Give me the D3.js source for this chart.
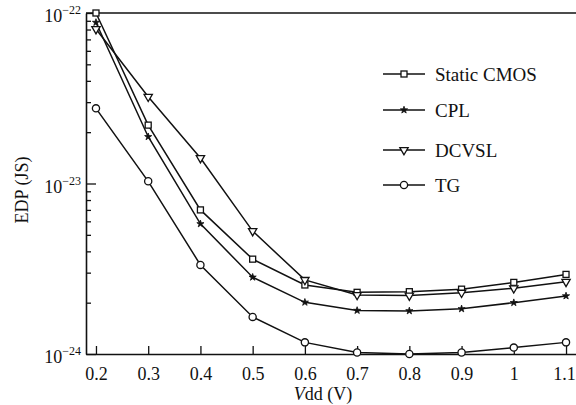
<!DOCTYPE html>
<html>
<head>
<meta charset="utf-8">
<script src="https://cdn.jsdelivr.net/npm/d3@7/dist/d3.min.js"></script>
<style>
  html, body { margin: 0; padding: 0; background: #fff; }
  svg { display: block; }
  text { font-family: "Liberation Serif", "Times New Roman", "DejaVu Serif", serif; fill: #111; }
</style>
</head>
<body>
<svg id="chart" width="576" height="405"></svg>
<script>
// ---- Data (EDP in J·s) ----
const vdd = [0.2, 0.3, 0.4, 0.5, 0.6, 0.7, 0.8, 0.9, 1.0, 1.1];
const staticCMOS = [100e-24, 22e-24, 7.0e-24, 3.6e-24, 2.54e-24, 2.30e-24, 2.32e-24, 2.40e-24, 2.63e-24, 2.93e-24];
const cpl        = [88e-24, 18.8e-24, 5.8e-24, 2.82e-24, 2.01e-24, 1.80e-24, 1.79e-24, 1.84e-24, 2.0e-24, 2.19e-24];
const dcvsl      = [80.5e-24, 32.3e-24, 14.1e-24, 5.26e-24, 2.72e-24, 2.22e-24, 2.20e-24, 2.29e-24, 2.43e-24, 2.65e-24];
const tg         = [27.6e-24, 10.3e-24, 3.33e-24, 1.65e-24, 1.17e-24, 1.02e-24, 1.0e-24, 1.02e-24, 1.09e-24, 1.17e-24];
const seriesNames = ["Static CMOS", "CPL", "DCVSL", "TG"];
const xTickValues = [0.2, 0.3, 0.4, 0.5, 0.6, 0.7, 0.8, 0.9, 1.0, 1.1];
const xTickLabels = ["0.2", "0.3", "0.4", "0.5", "0.6", "0.7", "0.8", "0.9", "1", "1.1"];
const yTickExponents = [-22, -23, -24];

// ---- Layout ----
const svg = d3.select("#chart");
const mLeft = 86, mRight = 576, mTop = 13, mBottom = 354;
const x = d3.scaleLinear().domain([0.1809, 1.1191]).range([mLeft, mRight]);
const y = d3.scaleLog().domain([1e-24, 1e-22]).range([mBottom, mTop]);
const ink = "#111";

// ---- Axes ----
const xAxis = d3.axisBottom(x)
  .tickValues(xTickValues)
  .tickSizeInner(-8).tickSizeOuter(0)
  .tickFormat((d, i) => xTickLabels[i]);
const gx = svg.append("g").attr("transform", `translate(0,${mBottom})`).call(xAxis);
gx.select(".domain").attr("stroke", ink).attr("stroke-width", 1.6);
gx.selectAll(".tick line").attr("stroke", ink).attr("stroke-width", 1.3);
gx.selectAll(".tick text")
  .attr("y", 10).attr("dy", "0.9em")
  .attr("x", (d, i) => i === xTickValues.length - 1 ? -2 : 0)
  .style("font-size", "18px")
  .style("font-family", '"Liberation Serif", "Times New Roman", serif')
  .attr("fill", ink);

// major y ticks
const majorVals = yTickExponents.map(e => Math.pow(10, e));
const yAxis = d3.axisLeft(y).tickValues(majorVals).tickSizeInner(-10).tickSizeOuter(0).tickFormat("");
const gy = svg.append("g").attr("transform", `translate(${mLeft},0)`).call(yAxis);
gy.select(".domain").attr("stroke", ink).attr("stroke-width", 1.6);
gy.selectAll(".tick line").attr("stroke", ink).attr("stroke-width", 1.3);

// minor y ticks
const minorVals = [];
[-24, -23].forEach(e => { for (let k = 2; k <= 9; k++) minorVals.push(k * Math.pow(10, e)); });
const yMinor = d3.axisLeft(y).tickValues(minorVals).tickSizeInner(-5).tickSizeOuter(0).tickFormat("");
const gym = svg.append("g").attr("transform", `translate(${mLeft},0)`).call(yMinor);
gym.select(".domain").remove();
gym.selectAll(".tick line").attr("stroke", ink).attr("stroke-width", 1.3);

// y tick labels 10^e
yTickExponents.forEach(e => {
  const yy = y(Math.pow(10, e));
  const t = svg.append("text")
    .attr("x", 81).attr("y", yy + 9)
    .attr("text-anchor", "end")
    .style("font-size", "18px");
  t.append("tspan").text("10");
  t.append("tspan").attr("dy", -8).style("font-size", "12px").text("\u2212" + Math.abs(e));
});

// top frame line
svg.append("line")
  .attr("x1", mLeft).attr("x2", mRight)
  .attr("y1", mTop).attr("y2", mTop)
  .attr("stroke", ink).attr("stroke-width", 1.6);

// axis titles
svg.append("text")
  .attr("transform", `translate(28,190) rotate(-90)`)
  .attr("text-anchor", "middle")
  .style("font-size", "18px")
  .text("EDP (JS)");

const xl = svg.append("text")
  .attr("x", 323).attr("y", 400)
  .attr("text-anchor", "middle")
  .style("font-size", "18px");
xl.append("tspan").style("font-style", "italic").text("V");
xl.append("tspan").text("dd (V)");

// ---- Series ----
const allSeries = [staticCMOS, cpl, dcvsl, tg];
const line = d3.line().x((d, i) => x(vdd[i])).y(d => y(d));

function drawMarker(g, type, cx, cy) {
  if (type === 0) {
    g.append("rect").attr("x", cx - 3).attr("y", cy - 3).attr("width", 6).attr("height", 6)
      .attr("fill", "#fff").attr("stroke", ink).attr("stroke-width", 1.3);
  } else if (type === 1) {
    g.append("path").attr("d", d3.symbol().type(d3.symbolStar).size(16)())
      .attr("transform", `translate(${cx},${cy})`)
      .attr("fill", ink).attr("stroke", ink).attr("stroke-width", 0.8);
  } else if (type === 2) {
    g.append("path").attr("d", d3.symbol().type(d3.symbolTriangle).size(30)())
      .attr("transform", `translate(${cx},${cy}) rotate(180)`)
      .attr("fill", "#fff").attr("stroke", ink).attr("stroke-width", 1.3);
  } else {
    g.append("circle").attr("cx", cx).attr("cy", cy).attr("r", 3.6)
      .attr("fill", "#fff").attr("stroke", ink).attr("stroke-width", 1.3);
  }
}

allSeries.forEach((s, si) => {
  svg.append("path").datum(s)
    .attr("d", line)
    .attr("fill", "none").attr("stroke", ink).attr("stroke-width", 1.5);
});
allSeries.forEach((s, si) => {
  const g = svg.append("g");
  s.forEach((v, i) => drawMarker(g, si, x(vdd[i]), y(v)));
});

// ---- Legend ----
const legendY = [74, 110, 150, 185];
seriesNames.forEach((name, i) => {
  const g = svg.append("g");
  const ly = legendY[i];
  g.append("line").attr("x1", 383).attr("x2", 425).attr("y1", ly).attr("y2", ly)
    .attr("stroke", ink).attr("stroke-width", 1.5);
  drawMarker(g, i, 404, ly);
  g.append("text").attr("x", 435).attr("y", ly + 6.5)
    .style("font-size", "19px").text(name);
});
</script>
</body>
</html>
